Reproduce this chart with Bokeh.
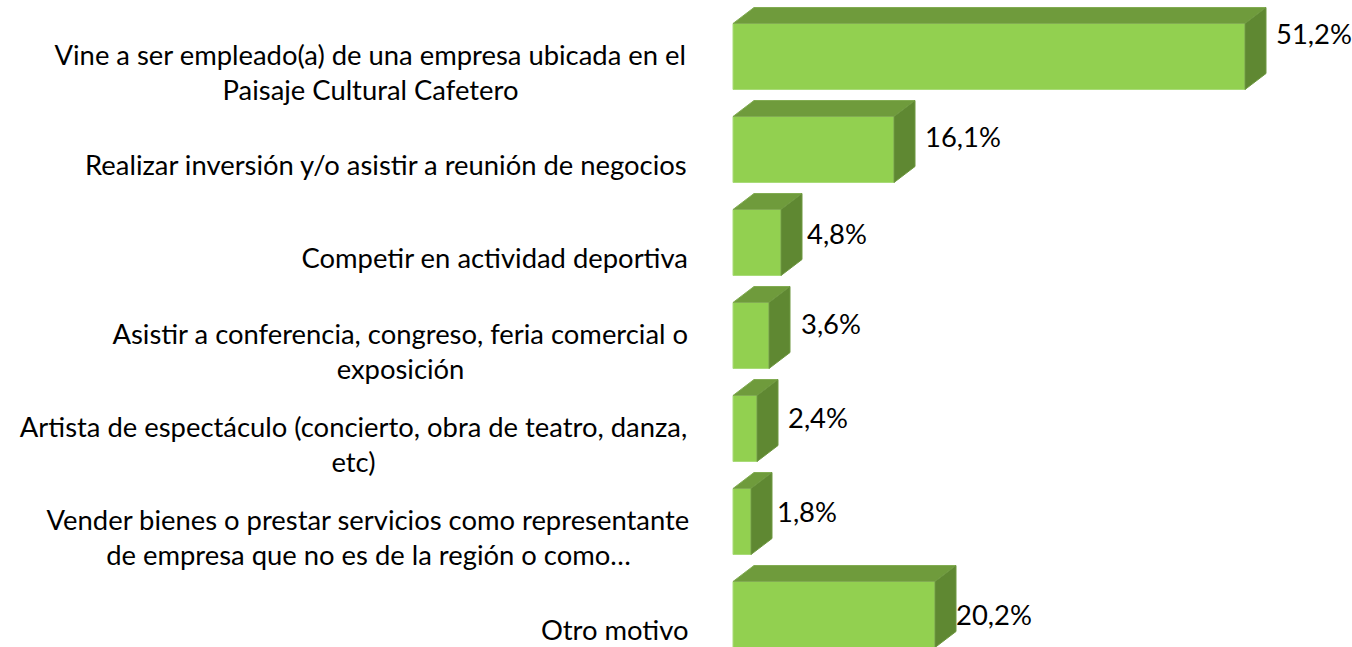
from bokeh.plotting import figure
from bokeh.models import Range1d, ColumnDataSource
from bokeh.core.properties import value
from bokeh.embed import file_html
from bokeh.resources import INLINE

# ---- data ----
categories = [
    ["Vine a ser empleado(a) de una empresa ubicada en el", "Paisaje Cultural Cafetero"],
    ["Realizar inversión y/o asistir a reunión de negocios"],
    ["Competir en actividad deportiva"],
    ["Asistir a conferencia, congreso, feria comercial o", "exposición"],
    ["Artista de espectáculo (concierto, obra de teatro, danza,", "etc)"],
    ["Vender bienes o prestar servicios como representante", "de empresa que no es de la región o como…"],
    ["Otro motivo"],
]
values = [51.2, 16.1, 4.8, 3.6, 2.4, 1.8, 20.2]
value_labels = ["51,2%", "16,1%", "4,8%", "3,6%", "2,4%", "1,8%", "20,2%"]

# ---- style / geometry ----
W, H = 1352, 647
PX_X = 10.0      # px per percent
PX_Y = 93.0      # px per category row
x0_px = 732.5    # where 0% sits
y0_px = 56.0     # centre of first bar from top
FONT = "Lato"
FS = "27.4px"

half_h = 33 / PX_Y
dx = 21 / PX_X
dy = 16 / PX_Y
FRONT = "#92D050"
TOP = "#6F9B3C"
SIDE = "#5F8832"

# per-label nudges in px (label placement as in the reference layout)
label_nudge_x = [0, 0, -5, 1, 0, -5, -10]
label_nudge_y = [-23, -13.5, -9, -12, -11.5, -10, 0]

p = figure(width=W, height=H, output_backend="svg", toolbar_location=None,
           x_range=Range1d(-x0_px / PX_X, (W - x0_px) / PX_X),
           y_range=Range1d((H - y0_px) / PX_Y, -y0_px / PX_Y),
           min_border=0)
p.axis.visible = False
p.grid.visible = False
p.outline_line_color = None

n = len(values)
ys = list(range(n))

# front faces
p.quad(left=[0] * n, right=values,
       top=[y - half_h for y in ys], bottom=[y + half_h for y in ys],
       fill_color=FRONT, line_color="#A9DB78", line_width=1)

# top and side faces
top_xs, top_ys, side_xs, side_ys = [], [], [], []
for v, y in zip(values, ys):
    t = y - half_h
    b = y + half_h
    top_xs.append([0, v, v + dx, dx])
    top_ys.append([t, t, t - dy, t - dy])
    side_xs.append([v, v + dx, v + dx, v])
    side_ys.append([t, t - dy, b - dy, b])
p.patches(top_xs, top_ys, fill_color=TOP, line_color="#82AC52", line_width=1)
p.patches(side_xs, side_ys, fill_color=SIDE, line_color="#6E9840", line_width=1)

# value labels
lab_x = [v + dx + 1.0 + nx / PX_X for v, nx in zip(values, label_nudge_x)]
lab_y = [y + ny / PX_Y for y, ny in zip(ys, label_nudge_y)]
p.text(x=lab_x, y=lab_y, text=value_labels, text_font=value(FONT),
       text_font_size=FS, text_color="#000000",
       text_align="left", text_baseline="middle")

# category labels (right edge of the block at a fixed px position, lines centred)
right_px = 688.0
line_px = 35.0
block_centres = [370, None, None, 400, 353, 368, None]  # px centre for 2-line blocks
tx, ty, tt, ta = [], [], [], []
for i, lines in enumerate(categories):
    yc = i + 15 / PX_Y
    nl = len(lines)
    for j, line in enumerate(lines):
        yy = yc + (j - (nl - 1) / 2) * line_px / PX_Y
        if nl == 1:
            tx.append((right_px - x0_px) / PX_X)
            ta.append("right")
        else:
            tx.append((block_centres[i] - x0_px) / PX_X)
            ta.append("center")
        ty.append(yy)
        tt.append(line)
src = ColumnDataSource(dict(x=tx, y=ty, t=tt, a=ta))
p.text(x="x", y="y", text="t", text_align="a", source=src,
       text_font=value(FONT), text_font_size=FS, text_color="#000000",
       text_baseline="middle")

open("out.html", "w").write(file_html(p, INLINE))
